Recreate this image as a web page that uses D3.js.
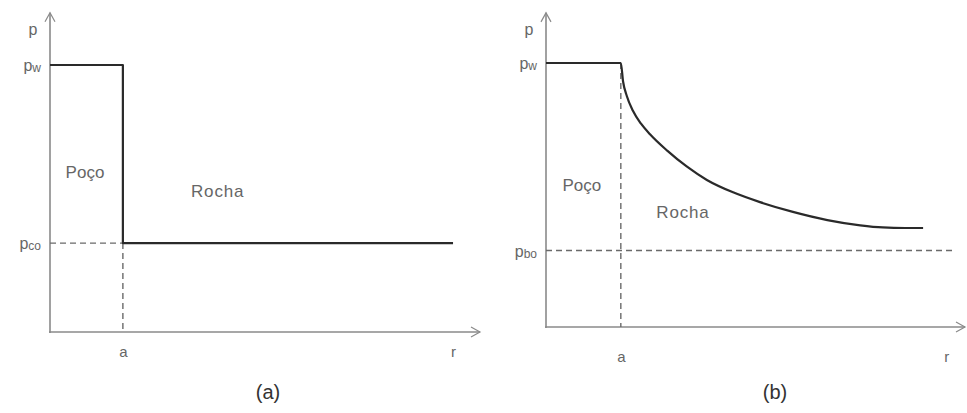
<!DOCTYPE html>
<html>
<head>
<meta charset="utf-8">
<script src="https://cdn.jsdelivr.net/npm/d3@7"></script>
<style>
  html, body { margin: 0; padding: 0; background: #fff; }
  svg { display: block; }
  text { font-family: "Liberation Sans", Arial, sans-serif; }
</style>
</head>
<body>
<svg id="chart" width="967" height="413"></svg>
<script>
// Pressure profiles around a wellbore: (a) sharp step at the wall, (b) gradual decay into the rock.
const wellRadius = 1;          // a
const wellPressure = 1;        // p_w

// (a) step profile
const radiusA = [0, 1, 1, 5.53];
const pressureA = [1, 1, 0.333, 0.333];
const farPressureA = 0.333;    // p_co

// (b) decaying profile
const radiusB = [0, 1.0, 1.03, 1.08, 1.16, 1.27, 1.39, 1.62, 1.88, 2.15, 2.5, 2.86, 3.30, 3.76, 4.20, 4.50, 4.8, 5.04];
const pressureB = [1, 1.0, 0.93, 0.875, 0.82, 0.77, 0.73, 0.668, 0.608, 0.557, 0.51, 0.473, 0.436, 0.405, 0.385, 0.377, 0.375, 0.375];
const farPressureB = 0.29;     // p_bo

const yTickLabelsA = [["p", "w"], ["p", "co"]];
const yTickLabelsB = [["p", "w"], ["p", "bo"]];
const xTickLabels = ["a", "r"];
const regionLabels = ["Poço", "Rocha"];
const captions = ["(a)", "(b)"];

const svg = d3.select("#chart");

const axisColor = "#8a8a8a";
const curveColor = "#2a2a2a";
const dashColor = "#6a6a6a";
const textColor = "#666";

function drawPanel(cfg) {
  const x = d3.scaleLinear().domain([0, cfg.xMax]).range(cfg.xRange);
  const y = d3.scaleLinear().domain([0, 1]).range(cfg.yRange);
  const g = svg.append("g");

  const x0 = x(0), y0 = y(0);
  const xEnd = x(cfg.xMax), yTop = y(cfg.yMax);

  // axes with open arrowheads
  const axes = g.append("g").attr("stroke", axisColor).attr("stroke-width", 1.6).attr("fill", "none");
  axes.append("line").attr("x1", x0).attr("y1", y0 + 1).attr("x2", x0).attr("y2", yTop);
  axes.append("line").attr("x1", x0 - 1).attr("y1", y0).attr("x2", xEnd).attr("y2", y0);
  axes.append("path").attr("stroke-width", 1.2)
    .attr("d", `M${x0 - 5},${yTop + 9}L${x0},${yTop}L${x0 + 5},${yTop + 9}`);
  axes.append("path").attr("stroke-width", 1.2)
    .attr("d", `M${xEnd - 9},${y0 - 5}L${xEnd},${y0}L${xEnd - 9},${y0 + 5}`);

  // dashed guides
  const dash = g.append("g").attr("stroke", dashColor).attr("stroke-width", 1.4)
    .attr("stroke-dasharray", "6,4").attr("fill", "none");
  dash.append("line").attr("x1", x(wellRadius)).attr("x2", x(wellRadius))
    .attr("y1", cfg.vDashFrom === "top" ? y(wellPressure) : y(cfg.farP)).attr("y2", y0);
  dash.append("line").attr("x1", x0).attr("x2", x(cfg.farDashEnd))
    .attr("y1", y(cfg.farP)).attr("y2", y(cfg.farP));

  // pressure profile
  const line = d3.line().x(d => x(d[0])).y(d => y(d[1])).curve(cfg.curve);
  g.append("path").datum(cfg.r.map((r, i) => [r, cfg.p[i]]))
    .attr("d", line).attr("fill", "none").attr("stroke", curveColor)
    .attr("stroke-width", 2.2).attr("stroke-linejoin", "round");

  // y tick labels via axis
  const yAxis = d3.axisLeft(y).tickValues([wellPressure, cfg.farP]).tickSize(0).tickPadding(9)
    .tickFormat(() => "");
  const ya = g.append("g").attr("transform", `translate(${x0},0)`).call(yAxis);
  ya.select(".domain").remove();
  ya.selectAll(".tick text").each(function(d, i) {
    const lab = cfg.yLabels[i];
    const t = d3.select(this).attr("fill", textColor).attr("font-size", 16).attr("dy", "0.35em");
    t.append("tspan").text(lab[0]);
    t.append("tspan").attr("font-size", 12).attr("dy", "1").text(lab[1]);
  });

  // y axis name
  g.append("text").attr("x", x0 - 17).attr("y", yTop + 22).attr("text-anchor", "middle")
    .attr("fill", textColor).attr("font-size", 16).text("p");

  // x tick labels via axis
  const xAxis = d3.axisBottom(x).tickValues([wellRadius, cfg.rLabelAt]).tickSize(0).tickPadding(cfg.xPad)
    .tickFormat((d, i) => xTickLabels[i]);
  const xa = g.append("g").attr("transform", `translate(0,${y0})`).call(xAxis);
  xa.select(".domain").remove();
  xa.selectAll(".tick text").attr("fill", textColor).attr("font-size", 15)
    .attr("font-family", "'Liberation Sans', Arial, sans-serif");

  // region labels
  g.append("text").attr("x", x(cfg.pocoAt[0])).attr("y", y(cfg.pocoAt[1])).attr("dy", "0.35em")
    .attr("text-anchor", "middle").attr("fill", textColor).attr("font-size", 17).text(regionLabels[0]);
  g.append("text").attr("x", x(cfg.rochaAt[0])).attr("y", y(cfg.rochaAt[1])).attr("dy", "0.35em")
    .attr("text-anchor", "middle").attr("fill", textColor).attr("font-size", 17)
    .attr("letter-spacing", 0.8).text(regionLabels[1]);

  // caption
  svg.append("text").attr("x", cfg.captionX).attr("y", 392).attr("dy", "0.35em")
    .attr("text-anchor", "middle").attr("fill", "#333").attr("font-size", 20)
    .attr("font-family", "'Open Sans', sans-serif").text(cfg.caption);
}

drawPanel({
  xRange: [50, 480], xMax: 5.9, yRange: [332, 65], yMax: 1.196,
  r: radiusA, p: pressureA, farP: farPressureA, farDashEnd: wellRadius,
  vDashFrom: "far", curve: d3.curveLinear,
  yLabels: yTickLabelsA, rLabelAt: 5.53, xPad: 14,
  pocoAt: [0.48, 0.6], rochaAt: [2.3, 0.528],
  captionX: 268, caption: captions[0]
});

drawPanel({
  xRange: [546, 965], xMax: 5.6, yRange: [327, 63], yMax: 1.19,
  r: radiusB, p: pressureB, farP: farPressureB, farDashEnd: 5.44,
  vDashFrom: "top", curve: d3.curveMonotoneX,
  yLabels: yTickLabelsB, rLabelAt: 5.35, xPad: 24,
  pocoAt: [0.48, 0.538], rochaAt: [1.83, 0.436],
  captionX: 775, caption: captions[1]
});
</script>
</body>
</html>
